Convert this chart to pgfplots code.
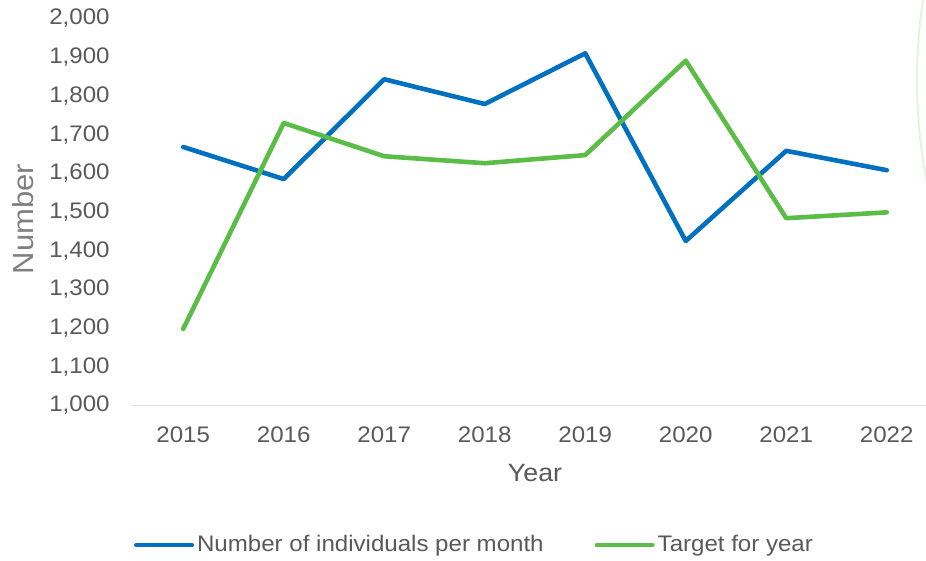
\documentclass[border=0pt]{standalone}
\usepackage{fontspec}
\setmainfont{Liberation Sans}[FakeStretch=1.07]
\usepackage{pgfplots}
\pgfplotsset{compat=1.18}
\definecolor{serblue}{HTML}{0070C0}
\definecolor{sergreen}{HTML}{5BBD48}
\definecolor{txtgray}{HTML}{595959}
\definecolor{ttlgray}{HTML}{808080}
\definecolor{axgray}{HTML}{E0E0E0}
\definecolor{arcgreen}{HTML}{E6F2DF}

\begin{document}
\begin{tikzpicture}
\begin{axis}[
  at={(66.5pt,77.75pt)}, anchor=south west,
  scale only axis, width=402pt, height=193.5pt,
  xmin=-0.5, xmax=7.5, ymin=1000, ymax=2000,
  xtick={0,1,2,3,4,5,6,7},
  xticklabels={2015,2016,2017,2018,2019,2020,2021,2022},
  ytick={1000,1100,1200,1300,1400,1500,1600,1700,1800,1900,2000},
  axis line style={draw=none},
  major tick length=0pt,
  tick label style={font=\fontsize{11.25pt}{13pt}\selectfont, text=txtgray, inner sep=0pt},
  yticklabel style={/pgf/number format/1000 sep={,}, /pgf/number format/assume math mode=true, xshift=-11.5pt},
  xticklabel style={anchor=north, yshift=-10.5pt},
  xlabel={Year},
  xlabel style={at={(axis description cs:0.5,0)}, anchor=north, yshift=-29pt, inner sep=0pt,
    font=\fontsize{12.5pt}{14pt}\selectfont, text=txtgray},
  ylabel={Number},
  ylabel style={at={(axis description cs:-0.1505,0.482)}, anchor=north, inner sep=0pt,
    font=\fontsize{14.5pt}{16pt}\selectfont, text=ttlgray},
  every axis plot/.append style={line width=2.3pt, line join=round, line cap=round},
  legend image code/.code={\draw[#1, line width=2pt, line cap=round] (0pt,0pt) -- (28pt,0pt);},
  legend style={at={(axis description cs:0.4254,-0.3605)}, anchor=center, draw=none, fill=none,
    legend columns=2, font=\fontsize{11.25pt}{13pt}\selectfont, text=txtgray,
    nodes={inner sep=1.5pt},
    /tikz/every even column/.append style={column sep=24pt}},
  legend cell align=left,
]
\addplot[serblue] coordinates
  {(0,1668)(1,1585)(2,1843)(3,1779)(4,1910)(5,1425)(6,1658)(7,1608)};
\addplot[sergreen] coordinates
  {(0,1198)(1,1730)(2,1644)(3,1626)(4,1647)(5,1891)(6,1484)(7,1499)};
\draw[axgray, line width=0.8pt] (rel axis cs:0,0) -- (rel axis cs:1,0);
\legend{Number of individuals per month, Target for year}
\end{axis}
\draw[arcgreen, line width=1pt] (726.5pt,240.5pt) ++(165:268pt) arc[start angle=165, end angle=195, radius=268pt];
\pgfresetboundingbox
\path (0,0) rectangle (463pt,280.5pt);
\end{tikzpicture}
\end{document}
